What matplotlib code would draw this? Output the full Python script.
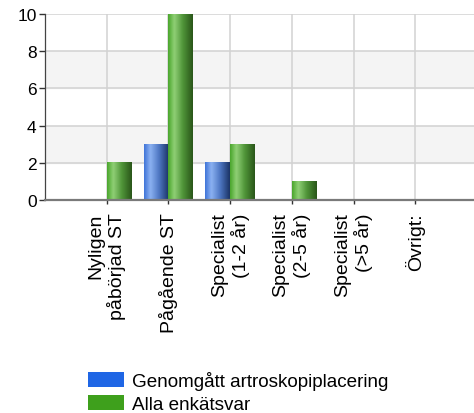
import numpy as np
import matplotlib.pyplot as plt
from matplotlib.colors import LinearSegmentedColormap
from matplotlib.patches import Patch

plt.rcParams["font.family"] = ["Liberation Sans", "DejaVu Sans"]

# Survey answers per category
categories = ["Nyligen\npåbörjad ST", "Pågående ST", "Specialist\n(1-2 år)",
              "Specialist\n(2-5 år)", "Specialist\n(>5 år)", "Övrigt:"]
artroskopi = [0, 3, 2, 0, 0, 0]
alla_svar = [2, 10, 3, 1, 0, 0]
series_names = ["Genomgått artroskopiplacering", "Alla enkätsvar"]
y_ticks = [0, 2, 4, 6, 8, 10]

BLUE = "#1f66e5"
GREEN = "#3ea01c"

# Cylinder-like shading across each bar
blue_cmap = LinearSegmentedColormap.from_list(
    "blue_bar", [(0, "#3f74d8"), (0.25, "#8cb2f2"), (0.6, "#4f78c4"), (1, "#1b3466")])
green_cmap = LinearSegmentedColormap.from_list(
    "green_bar", [(0, "#4aa62c"), (0.25, "#90d076"), (0.6, "#4f9438"), (1, "#2a561a")])

fig = plt.figure(figsize=(4.74, 4.14), dpi=100)
ax = fig.add_axes([45 / 474, 213 / 414, 432 / 474, 186 / 414])

x = np.arange(len(categories))
width = 0.4
gradient = np.linspace(0, 1, 64).reshape(1, -1)


def shaded_bars(lefts, heights, cmap):
    for left, h in zip(lefts, heights):
        if h <= 0:
            continue
        ax.imshow(gradient, cmap=cmap, aspect="auto", interpolation="bicubic",
                  extent=(left, left + width, 0, h), zorder=3)


shaded_bars(x - width, artroskopi, blue_cmap)
shaded_bars(x, alla_svar, green_cmap)

ax.set_xlim(-1, len(categories))
ax.set_ylim(0, 10)

# Alternating horizontal bands
for lo in (2, 6):
    ax.axhspan(lo, lo + 2, color="#f4f4f4", zorder=0)
ax.grid(True, color="#d2d2d2", linewidth=1.1, zorder=1)
ax.set_axisbelow(True)

ax.set_yticks(y_ticks)
ax.set_xticks(x)
ax.set_xticklabels(categories, rotation=90, fontsize=14, ha="center", va="top",
                   multialignment="right")
ax.tick_params(axis="y", labelsize=12.5, length=4, width=1, color="#333333", pad=2)
ax.tick_params(axis="x", length=3, width=1, color="#333333", pad=6)

for side in ("top", "right"):
    ax.spines[side].set_visible(False)
ax.spines["left"].set_color("#444444")
ax.spines["left"].set_linewidth(0.9)
ax.spines["bottom"].set_color("#7a7a7a")
ax.spines["bottom"].set_linewidth(1.6)
ax.spines["bottom"].set_zorder(4)

handles = [Patch(facecolor=BLUE), Patch(facecolor=GREEN)]
fig.legend(handles, series_names, loc="upper left", bbox_to_anchor=(84 / 474, 1 - 368 / 414),
           frameon=False, fontsize=13.6, handlelength=1.9, handleheight=0.85,
           handletextpad=0.42, labelspacing=0.28, borderaxespad=0, borderpad=0.2)

fig.savefig("out.png", dpi=100)
